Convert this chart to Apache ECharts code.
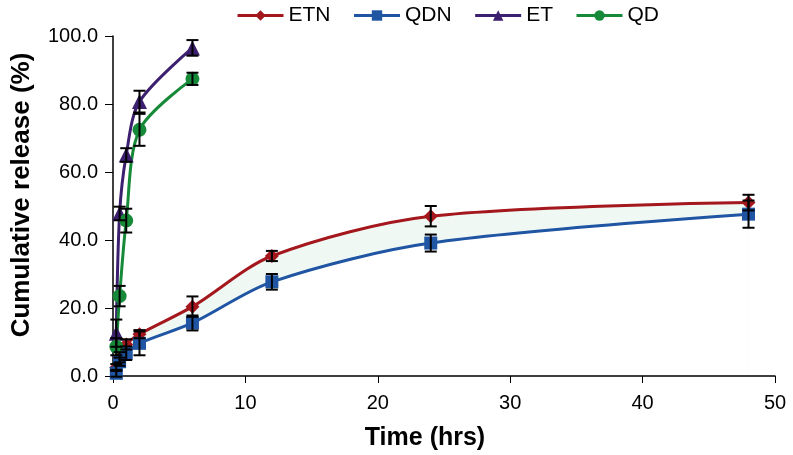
<!DOCTYPE html>
<html>
<head>
<meta charset="utf-8">
<script src="https://cdn.jsdelivr.net/npm/echarts@6/dist/echarts.min.js"></script>
<style>
html, body { margin: 0; padding: 0; background: #fff; }
#chart { width: 793px; height: 455px; }
</style>
</head>
<body>
<div id="chart"></div>
<script>
// sampling times (hrs)
const slowTimes = [0.25, 0.5, 1, 2, 6, 12, 24, 48];
const fastTimes = [0.25, 0.5, 1, 2, 6];

// cumulative release (%) and error bars
const etnValues = [2.5, 5.5, 9.3, 12.3, 20.4, 35.3, 47.0, 51.0];
const etnErrors = [1.0, 1.5, 1.5, 1.2, 3.0, 1.5, 3.0, 2.3];
const qdnValues = [0.8, 4.2, 6.7, 9.6, 15.6, 27.7, 39.1, 47.6];
const qdnErrors = [1.0, 1.2, 2.0, 3.5, 2.2, 2.3, 2.5, 4.0];
const etValues = [12.6, 47.8, 65.0, 80.7, 96.5];
const etErrors = [4.0, 2.0, 2.0, 3.2, 2.3];
const qdValues = [8.6, 23.5, 45.7, 72.4, 87.4];
const qdErrors = [2.5, 3.0, 3.5, 4.7, 1.8];

const xTicks = [0, 10, 20, 30, 40, 50];
const yTicks = [0, 20, 40, 60, 80, 100];

const SMOOTH = 0.3;

const chart = echarts.init(document.getElementById('chart'));

const pairs = (xs, ys) => xs.map((x, i) => [x, ys[i]]);

function errorBars(name, xs, ys, errs) {
  return {
    name: name + ' err',
    type: 'custom',
    silent: true,
    z: 5,
    data: xs.map((x, i) => [x, ys[i] - errs[i], ys[i] + errs[i]]),
    encode: { x: 0, y: [1, 2] },
    renderItem(params, api) {
      const lo = api.coord([api.value(0), api.value(1)]);
      const hi = api.coord([api.value(0), api.value(2)]);
      const w = 6;
      const style = { stroke: '#000', lineWidth: 2 };
      return {
        type: 'group',
        children: [
          { type: 'line', shape: { x1: lo[0], y1: lo[1], x2: hi[0], y2: hi[1] }, style },
          { type: 'line', shape: { x1: lo[0] - w, y1: lo[1], x2: lo[0] + w, y2: lo[1] }, style },
          { type: 'line', shape: { x1: hi[0] - w, y1: hi[1], x2: hi[0] + w, y2: hi[1] }, style }
        ]
      };
    }
  };
}

function lineSeries(name, xs, ys, color, symbol, size) {
  return {
    name,
    type: 'line',
    data: pairs(xs, ys),
    smooth: SMOOTH,
    symbol,
    symbolSize: size,
    z: 4,
    lineStyle: { color, width: 3 },
    itemStyle: { color }
  };
}

// pale shading between ETN and QDN: tinted area under ETN, white area under QDN
function bandSeries(name, ys, color) {
  return {
    name,
    type: 'line',
    data: pairs(slowTimes, ys),
    smooth: SMOOTH,
    symbol: 'none',
    silent: true,
    z: 1,
    lineStyle: { width: 0, opacity: 0 },
    areaStyle: { color, opacity: 1 }
  };
}

const option = {
  animation: false,
  backgroundColor: '#fff',
  textStyle: { fontFamily: 'Liberation Sans, Arial, sans-serif' },
  legend: {
    top: 0,
    left: 231,
    itemWidth: 46,
    itemHeight: 13,
    itemGap: 22,
    lineStyle: { width: 3 },
    textStyle: { fontSize: 21, color: '#000' },
    data: ['ETN', 'QDN', 'ET', 'QD']
  },
  grid: { left: 113, right: 18, top: 36, bottom: 79, outerBoundsMode: 'none' },
  xAxis: {
    type: 'value',
    z: 3,
    min: xTicks[0],
    max: xTicks[xTicks.length - 1],
    interval: 10,
    name: 'Time (hrs)',
    nameLocation: 'middle',
    nameGap: 50,
    nameTextStyle: { fontSize: 25, fontWeight: 'bold', color: '#000', padding: [0, 38, 0, 0] },
    axisLine: { lineStyle: { color: '#000', width: 1.5 } },
    axisTick: { length: 7, lineStyle: { color: '#000' } },
    axisLabel: { fontSize: 20, color: '#000', margin: 17 },
    splitLine: { show: false }
  },
  yAxis: {
    type: 'value',
    z: 3,
    min: yTicks[0],
    max: yTicks[yTicks.length - 1],
    interval: 20,
    name: 'Cumulative release (%)',
    nameLocation: 'middle',
    nameGap: 78,
    nameTextStyle: { fontSize: 26, fontWeight: 'bold', color: '#000', padding: [0, 0, 0, 22] },
    axisLine: { show: true, lineStyle: { color: '#000', width: 1.5 } },
    axisTick: { show: true, length: 8, lineStyle: { color: '#000' } },
    axisLabel: { fontSize: 20, color: '#000', margin: 15, formatter: v => v.toFixed(1) },
    splitLine: { show: false }
  },
  series: [
    bandSeries('band top', etnValues, '#eff8f3'),
    bandSeries('band bottom', qdnValues, '#ffffff'),
    lineSeries('ETN', slowTimes, etnValues, '#a3171d', 'diamond', 14),
    lineSeries('QDN', slowTimes, qdnValues, '#1f55a3', 'rect', 13),
    lineSeries('ET', fastTimes, etValues, '#3c1f6e', 'triangle', 15),
    lineSeries('QD', fastTimes, qdValues, '#178a3a', 'circle', 14),
    errorBars('ETN', slowTimes, etnValues, etnErrors),
    errorBars('QDN', slowTimes, qdnValues, qdnErrors),
    errorBars('ET', fastTimes, etValues, etErrors),
    errorBars('QD', fastTimes, qdValues, qdErrors)
  ]
};

chart.setOption(option);
</script>
</body>
</html>
